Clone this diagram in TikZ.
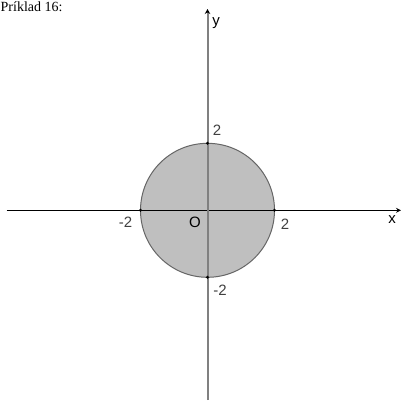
\documentclass[tikz,border=0pt]{standalone}
\usepackage{fontspec}
\setmainfont{Liberation Serif}
\newfontfamily\lblfont{Liberation Sans}
\usetikzlibrary{arrows.meta,positioning}

\begin{document}
\begin{tikzpicture}[x=1pt,y=-1pt,>={Stealth[length=5pt,width=5pt]},
  lbl/.style={inner sep=0pt,font=\lblfont\fontsize{15}{16}\selectfont},
  pt/.style={circle,fill=black,inner sep=0pt,minimum size=3.2pt}]
  \useasboundingbox (0,0) rectangle (406,401);
  \coordinate (O) at (207.5,210.3);
  \coordinate (xl) at (6.5,210.3);
  \coordinate (xr) at (401,210.3);
  \coordinate (yb) at (207.5,400);
  \coordinate (yt) at (207.5,9);
  % disc
  \fill[gray!50] (O) circle[radius=67];
  \draw[black!60,line width=1pt] (O) circle[radius=67];
  % axes
  \draw[->,line width=1.1pt] (xl) -- (xr);
  \draw[gray,line width=2pt,-{Stealth[length=5pt,width=5.5pt,black]}] (yb) -- (yt);
  % intercepts
  \node[pt] (a) at (140.5,210.3) {};
  \node[pt] (b) at (274.5,210.3) {};
  \node[pt] (c) at (207.5,143.3) {};
  \node[pt] (d) at (207.5,277.3) {};
  % labels
  \node[lbl,text=black!75] (c2) at (217,130.5) {2};
  \node[lbl,text=black!75] (d2) at (220,290.5) {-2};
  \node[lbl,text=black!75] (a2) at (125.5,222) {-2};
  \node[lbl,text=black!75] (b2) at (285,224.5) {2};
  \node[lbl] (o) at (195,222) {O};
  \node[lbl] (xlab) at (392,219.5) {x};
  \node[lbl] (ylab) at (216,23) {y};
  \node[anchor=base west,inner sep=0pt,font=\fontsize{14}{15}\selectfont] (title) at (0.5,12) {Príklad 16:};
\end{tikzpicture}
\end{document}
